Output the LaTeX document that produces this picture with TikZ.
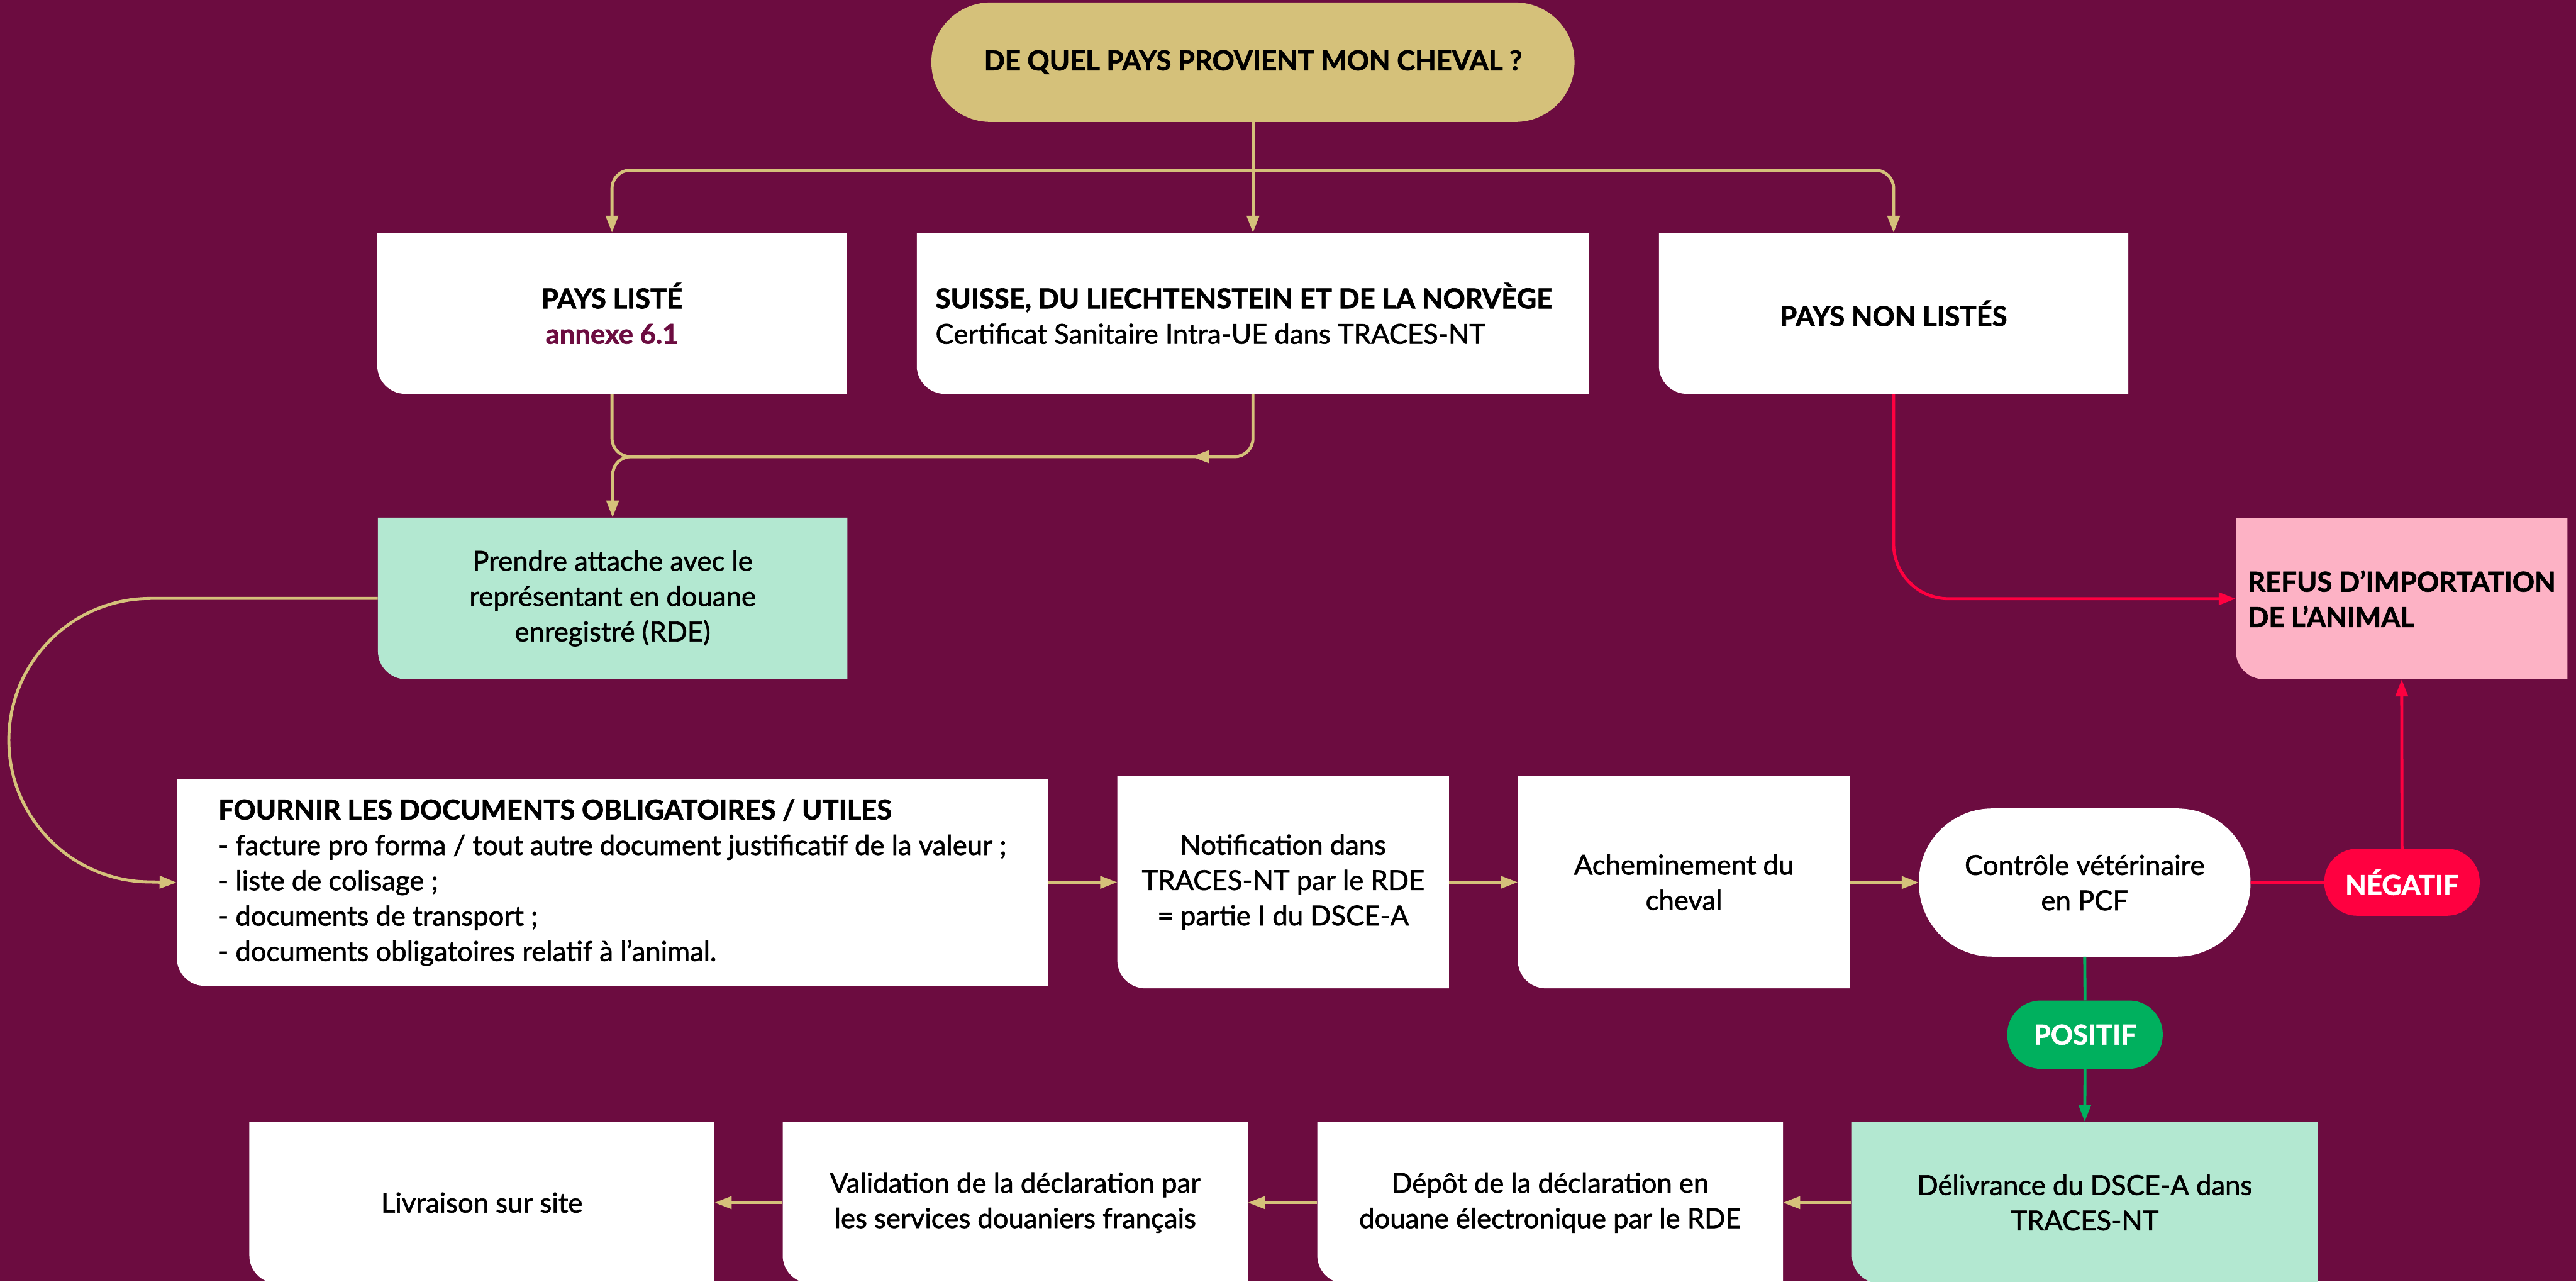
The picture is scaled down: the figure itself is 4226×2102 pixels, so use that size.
\documentclass[tikz,border=0pt]{standalone}
\usepackage{fontspec}
\setmainfont{Lato}
\newfontfamily\semib[FakeBold=1.5]{Lato}
\usetikzlibrary{arrows.meta,decorations.markings}
\definecolor{bgc}{RGB}{108,12,64}
\definecolor{gold}{RGB}{213,193,122}
\definecolor{mint}{RGB}{179,232,209}
\definecolor{pinkc}{RGB}{253,178,197}
\definecolor{redc}{RGB}{255,0,64}
\definecolor{greenc}{RGB}{0,176,94}
\tikzset{flowtip/.tip={Triangle[length=28pt,width=20pt]}}
\begin{document}
\begin{tikzpicture}[x=1pt,y=1pt,
  every node/.style={font=\fontsize{45}{58}\selectfont\semib, text=black, inner sep=0pt},
  card/.style={rectangle, align=center,
    path picture={\fill[#1] (path picture bounding box.north west) -- (path picture bounding box.north east)
      -- (path picture bounding box.south east) -- ([xshift=46pt]path picture bounding box.south west)
      arc[start angle=270,end angle=180,radius=46pt] -- cycle;}},
  pill/.style={rectangle, align=center, fill=#1},
  goldline/.style={draw=gold, line width=5pt},
  redline/.style={draw=redc, line width=5pt},
  greenline/.style={draw=greenc, line width=5pt},
  midarrow/.style={postaction={decorate,decoration={markings,mark=at position #1 with {\arrow{flowtip}}}}}
]
\fill[bgc] (0,0) rectangle (4226,-2102);
\useasboundingbox (0,0) rectangle (4226,-2102);

% nodes
\node[pill=gold, minimum width=1055pt, minimum height=196pt, rounded corners=97pt] (q) at (2055.5,-102)
  {\bfseries DE QUEL PAYS PROVIENT MON CHEVAL ?};
\node[card=white, minimum width=770pt, minimum height=264pt] (liste) at (1004,-514)
  {\bfseries PAYS LISTÉ\\ \bfseries\color{bgc}annexe 6.1};
\node[card=white, minimum width=1103pt, minimum height=264pt, align=left] (suisse) at (2055.5,-514)
  {\bfseries SUISSE, DU LIECHTENSTEIN ET DE LA NORVÈGE\rule{30pt}{0pt}\\ \semib Certificat Sanitaire Intra-UE dans TRACES-NT};
\node[card=white, minimum width=770pt, minimum height=264pt] (nonliste) at (3106.5,-514)
  {\bfseries PAYS NON LISTÉS};
\node[card=mint, minimum width=770pt, minimum height=265pt] (rde) at (1005,-981.5)
  {Prendre attache avec le\\représentant en douane\\enregistré (RDE)};
\node[card=pinkc, minimum width=544pt, minimum height=264pt, align=left] (refus) at (3940,-982)
  {\bfseries REFUS D’IMPORTATION\\ \bfseries DE L’ANIMAL};
\node[card=white, minimum width=1429pt, minimum height=339pt, align=left] (fournir) at (1004.5,-1447.5)
  {\bfseries FOURNIR LES DOCUMENTS OBLIGATOIRES / UTILES\\
   - facture pro forma / tout autre document justificatif de la valeur ;\\
   - liste de colisage ;\\
   - documents de transport ;\\
   - documents obligatoires relatif à l’animal.};
\node[card=white, minimum width=544pt, minimum height=348pt] (notif) at (2105,-1447)
  {Notification dans\\TRACES-NT par le RDE\\= partie I du DSCE-A};
\node[card=white, minimum width=545pt, minimum height=348pt] (achem) at (2762.5,-1447)
  {Acheminement du\\cheval};
\node[pill=white, minimum width=544pt, minimum height=243pt, rounded corners=120pt] (controle) at (3420,-1447.5)
  {Contrôle vétérinaire\\en PCF};
\node[pill=redc, minimum width=255pt, minimum height=110pt, rounded corners=54pt, text=white] (negatif) at (3940.5,-1447)
  {\bfseries NÉGATIF};
\node[pill=greenc, minimum width=255pt, minimum height=112pt, rounded corners=55pt, text=white] (positif) at (3420.5,-1697)
  {\bfseries POSITIF};
\node[card=mint, minimum width=764pt, minimum height=265pt] (delivrance) at (3420,-1972.5)
  {Délivrance du DSCE-A dans\\TRACES-NT};
\node[card=white, minimum width=764pt, minimum height=265pt] (depot) at (2543,-1972.5)
  {Dépôt de la déclaration en\\douane électronique par le RDE};
\node[card=white, minimum width=763pt, minimum height=265pt] (validation) at (1665.5,-1972.5)
  {Validation de la déclaration par\\les services douaniers français};
\node[card=white, minimum width=763pt, minimum height=265pt] (livraison) at (790.5,-1972.5)
  {Livraison sur site};

% junction coordinates
\coordinate (split) at (2055.5,-279);
\coordinate (joinL) at (1005,-749);
\coordinate (joinR) at (1100,-749);
\coordinate (loopT) at (247,-981.5);

% connectors
\draw[goldline,-{flowtip}] (q.south) -- (suisse.north);
\draw[goldline,-{flowtip},rounded corners=30pt] (split) -| (liste.north);
\draw[goldline,-{flowtip},rounded corners=30pt] (split) -| (nonliste.north);
\draw[goldline,rounded corners=30pt] (liste.south) |- (joinR);
\draw[goldline,-{flowtip},rounded corners=30pt,midarrow=0.155] (suisse.south) |- (joinL) -- (rde.north);
\draw[goldline,-{flowtip}] (rde.west) -- (loopT) arc[start angle=90,end angle=270,radius=232.5pt] -- (fournir.west);
\draw[goldline,-{flowtip}] (fournir.east) -- (notif.west);
\draw[goldline,-{flowtip}] (notif.east) -- (achem.west);
\draw[goldline,-{flowtip}] (achem.east) -- (controle.west);
\draw[redline,-{flowtip},rounded corners=90pt] (nonliste.south) |- (refus.west);
\draw[redline] (controle.east) -- (negatif.west);
\draw[redline,-{flowtip}] (negatif.north) -- (refus.south);
\draw[greenline] (controle.south) -- (positif.north);
\draw[greenline,-{flowtip}] (positif.south) -- (delivrance.north);
\draw[goldline,-{flowtip}] (delivrance.west) -- (depot.east);
\draw[goldline,-{flowtip}] (depot.west) -- (validation.east);
\draw[goldline,-{flowtip}] (validation.west) -- (livraison.east);
\end{tikzpicture}
\end{document}
